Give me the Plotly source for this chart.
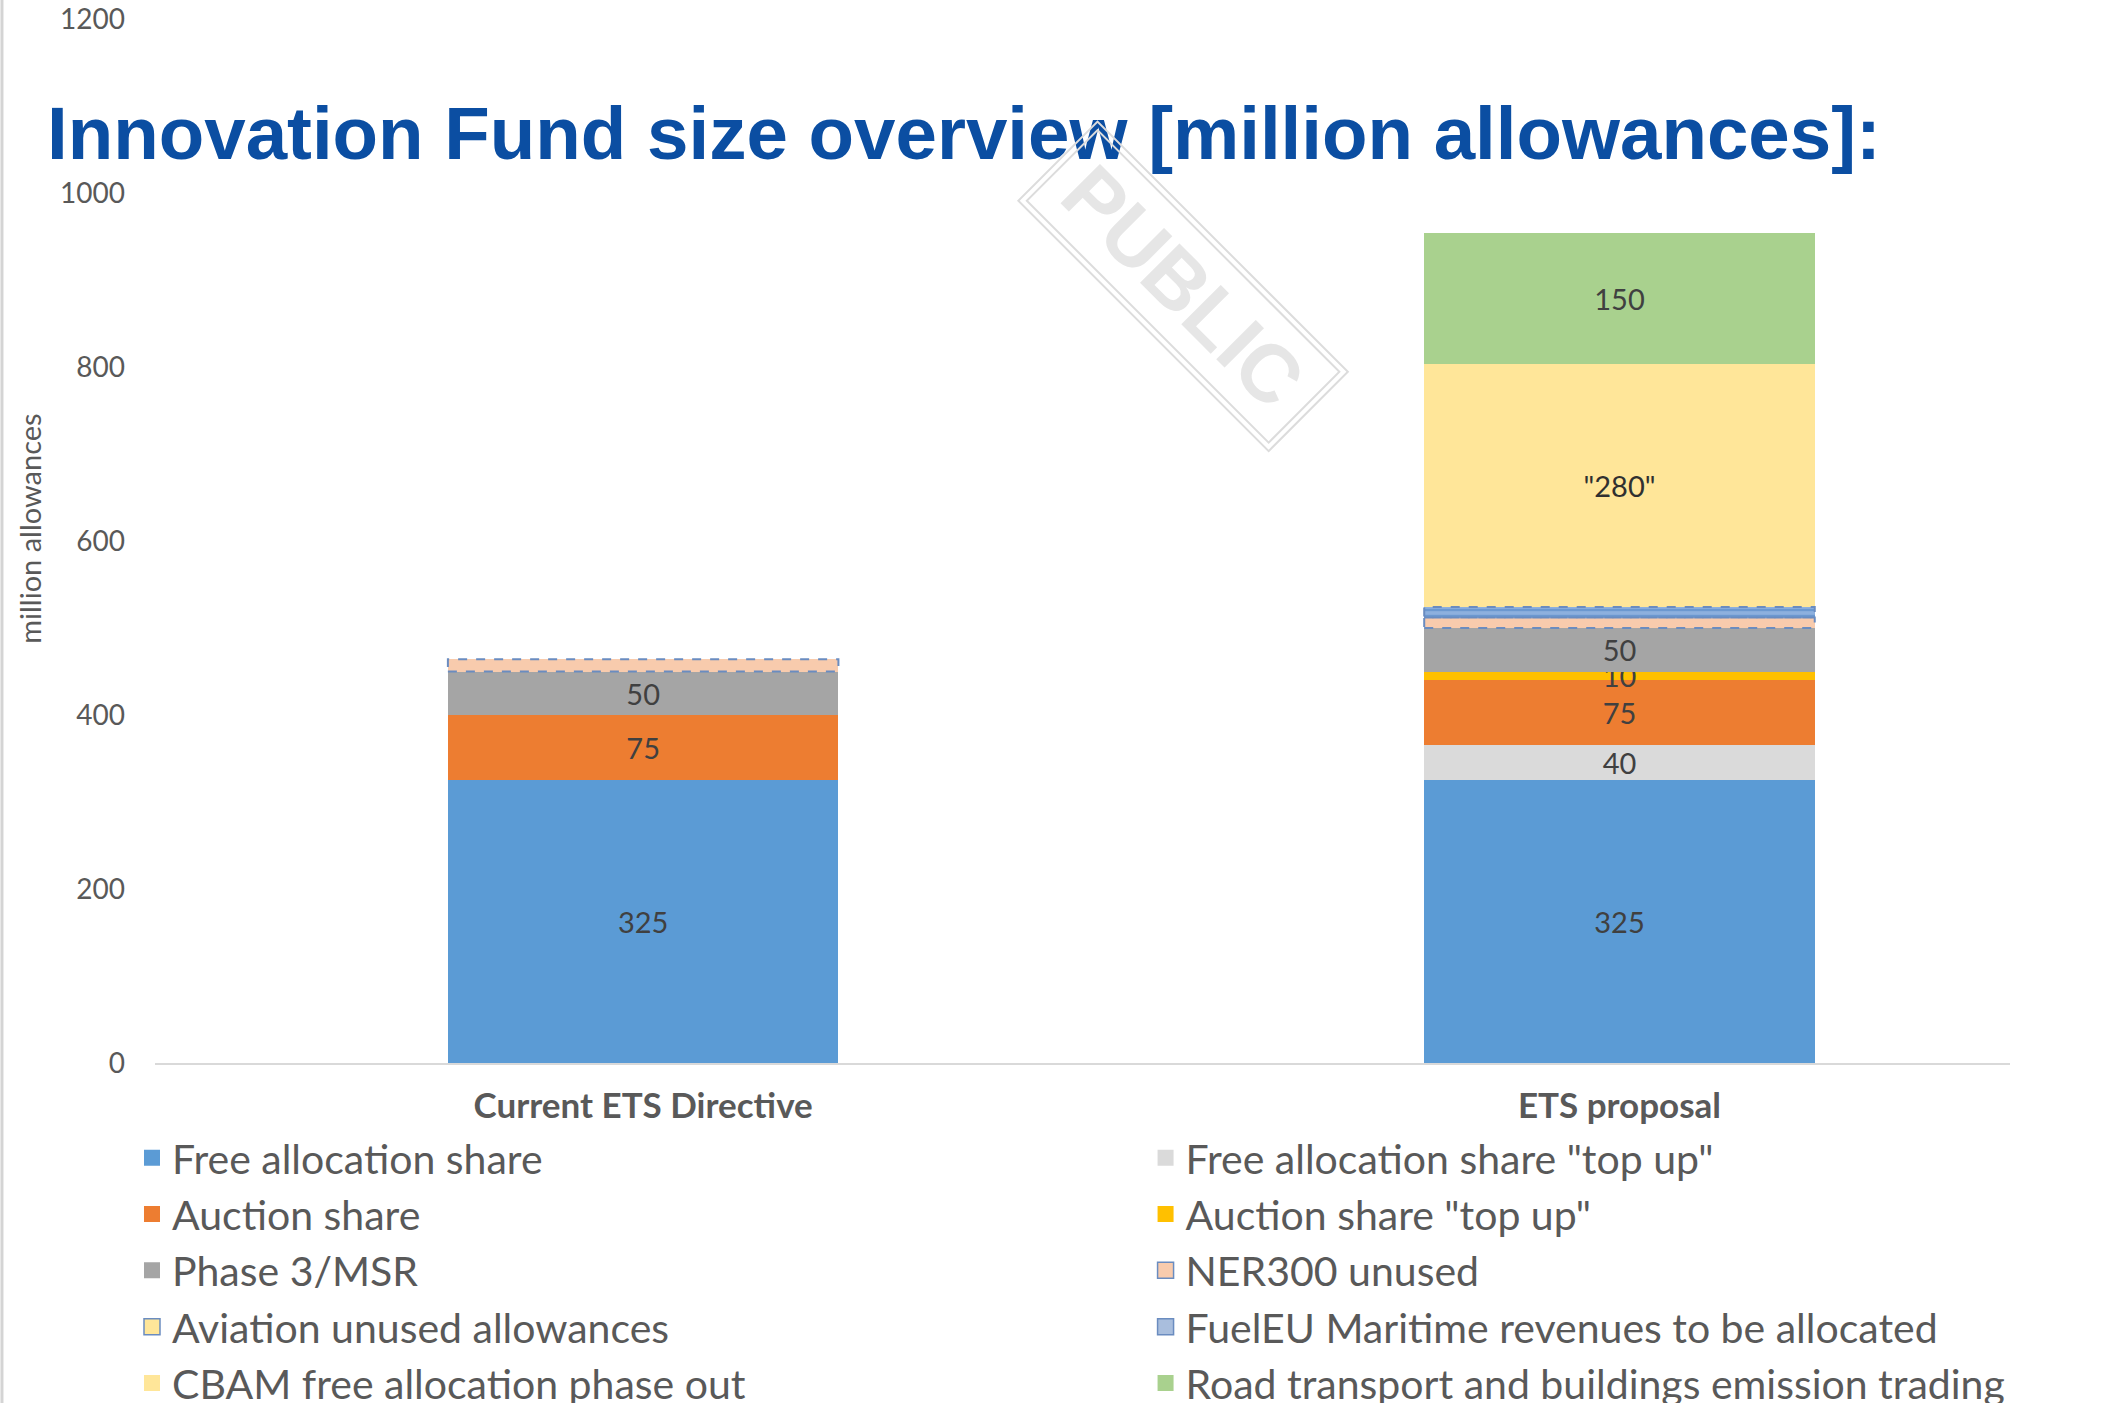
import plotly.graph_objects as go

# Innovation Fund size overview, million allowances per funding source
categories = ["Current ETS Directive", "ETS proposal"]

free_allocation = [325, 325]
free_allocation_top_up = [0, 40]
auction = [75, 75]
auction_top_up = [0, 10]
phase3_msr = [50, 50]
ner300_unused = [14, 12]
aviation_unused = [0, 0]
fueleu_maritime = [0, 12]
cbam_phase_out = [0, 280]
road_buildings_ets = [0, 150]

y_ticks = [0, 200, 400, 600, 800, 1000, 1200]

FONT = "Lato"
GREY_TEXT = "#595959"
LABEL_TEXT = "#404040"
DASH_LINE = "#6A8CC0"
BAR_HALF = 0.2  # half of the bar width in category units (bargap 0.6)

# (name, values, fill colour, legend column, label format, dashed outline)
series = [
    ("Free allocation share", free_allocation, "#5B9BD5", "legend", "{}", False),
    ('Free allocation share "top up"', free_allocation_top_up, "#DADADA", "legend2", "{}", False),
    ("Auction share", auction, "#ED7D31", "legend", "{}", False),
    ('Auction share "top up"', auction_top_up, "#FFC000", "legend2", "{}", False),
    ("Phase 3/MSR", phase3_msr, "#A5A5A5", "legend", "{}", False),
    ("NER300 unused", ner300_unused, "#F8CBAD", "legend2", None, True),
    ("Aviation unused allowances", aviation_unused, "#FFE699", "legend", None, True),
    ("FuelEU Maritime revenues to be allocated", fueleu_maritime, "#A9BEDD", "legend2", None, True),
    ("CBAM free allocation phase out", cbam_phase_out, "#FFE699", "legend", '"{}"', False),
    ("Road transport and buildings emission trading", road_buildings_ets, "#A9D18E", "legend2", "{}", False),
]

fig = go.Figure()
shapes = []
bases = [0.0] * len(categories)

for idx, (name, values, color, legend, fmt, dashed) in enumerate(series):
    labels = [fmt.format(v) if (fmt and v) else "" for v in values]
    marker = dict(color=color, line=dict(width=0))
    if name.startswith("FuelEU"):
        marker = dict(color="#8DB0DE", line=dict(width=0),
                      pattern=dict(shape="-", fgcolor="#4A7FC1", size=6, solidity=0.4))
    fig.add_trace(go.Bar(
        name=name,
        x=categories,
        y=values,
        marker=marker,
        text=labels,
        textposition="inside",
        insidetextanchor="middle",
        textangle=0,
        constraintext="none",
        insidetextfont=dict(family=FONT, size=29,
                            color="#303030" if fmt == '"{}"' else LABEL_TEXT),
        showlegend=False,
        legendgroup=f"g{idx}",
        hoverinfo="skip",
    ))
    # legend swatch for the series
    fig.add_trace(go.Scatter(
        name=name,
        x=[None],
        y=[None],
        mode="markers",
        marker=dict(symbol="square", size=17, color=color,
                    line=dict(color=DASH_LINE if dashed else color,
                              width=1.5 if dashed else 0)),
        legend=legend,
        legendgroup=f"g{idx}",
        hoverinfo="skip",
    ))
    # dashed outline around the "unused / to be allocated" segments
    if dashed:
        for i, v in enumerate(values):
            if v > 0:
                shapes.append(dict(
                    type="rect", xref="x", yref="y",
                    x0=i - BAR_HALF, x1=i + BAR_HALF,
                    y0=bases[i], y1=bases[i] + v,
                    line=dict(color=DASH_LINE, width=2, dash="dash"),
                    fillcolor="rgba(0,0,0,0)", layer="above",
                ))
    bases = [b + v for b, v in zip(bases, values)]

# slide frame on the left edge
shapes.append(dict(type="line", xref="paper", yref="paper",
                   x0=-0.0825, x1=-0.0825, y0=-0.33, y1=1.02,
                   line=dict(color="#D4D4D4", width=3)))

legend_common = dict(
    orientation="v",
    traceorder="grouped",
    tracegroupgap=0,
    itemsizing="trace",
    font=dict(family=FONT, size=41, color=GREY_TEXT),
    bgcolor="rgba(0,0,0,0)",
    yanchor="top",
    xanchor="left",
    itemclick=False,
    itemdoubleclick=False,
)

fig.update_layout(
    width=2108,
    height=1403,
    margin=dict(l=155, r=98, t=19, b=340, autoexpand=False),
    paper_bgcolor="white",
    plot_bgcolor="white",
    barmode="stack",
    bargap=0.6,
    showlegend=True,
    legend=dict(x=-0.0124, y=-0.059, **legend_common),
    legend2=dict(x=0.534, y=-0.059, **legend_common),
    title=dict(
        text="<b>Innovation Fund size overview [million allowances]:</b>",
        font=dict(family="Liberation Sans, Arial", size=74.5, color="#0B4EA2"),
        x=0.0223, xanchor="left", xref="container",
        y=0.905, yanchor="middle", yref="container",
    ),
    xaxis=dict(
        type="category",
        range=[-0.5, 1.4],
        showline=True,
        linecolor="#D9D9D9",
        linewidth=2,
        showgrid=False,
        ticks="",
        ticklabelstandoff=11,
        tickfont=dict(family=FONT, size=35, color=GREY_TEXT, weight="bold"),
        fixedrange=True,
    ),
    yaxis=dict(
        range=[0, 1200],
        tickvals=y_ticks,
        ticktext=[str(t) for t in y_ticks],
        showline=False,
        showgrid=False,
        zeroline=False,
        ticks="",
        ticklabelstandoff=29,
        tickfont=dict(family=FONT, size=28, color=GREY_TEXT),
        fixedrange=True,
    ),
    shapes=shapes,
    annotations=[
        # y-axis title
        dict(text="million allowances", xref="paper", yref="paper",
             x=-0.0674, y=0.5126, xanchor="center", yanchor="middle",
             showarrow=False, textangle=-90,
             font=dict(family=FONT, size=29, color=GREY_TEXT)),
        # "PUBLIC" stamp: outer frame, then inner frame with the text
        dict(text="<b>PUBLIC</b>", xref="paper", yref="paper", x=0.554, y=0.744,
             xanchor="center", yanchor="middle",
             showarrow=False, textangle=45, width=352, height=110,
             font=dict(family="Liberation Sans, Arial", size=81, color="rgba(0,0,0,0)"),
             bordercolor="#DCDCDC", borderwidth=2, borderpad=0),
        dict(text="<b>PUBLIC</b>", xref="paper", yref="paper", x=0.554, y=0.744,
             xanchor="center", yanchor="middle",
             showarrow=False, textangle=45, width=340, height=98,
             font=dict(family="Liberation Sans, Arial", size=81, color="#E6E6E6"),
             bordercolor="#DCDCDC", borderwidth=2, borderpad=0),
    ],
)

fig.write_html("out.html")
